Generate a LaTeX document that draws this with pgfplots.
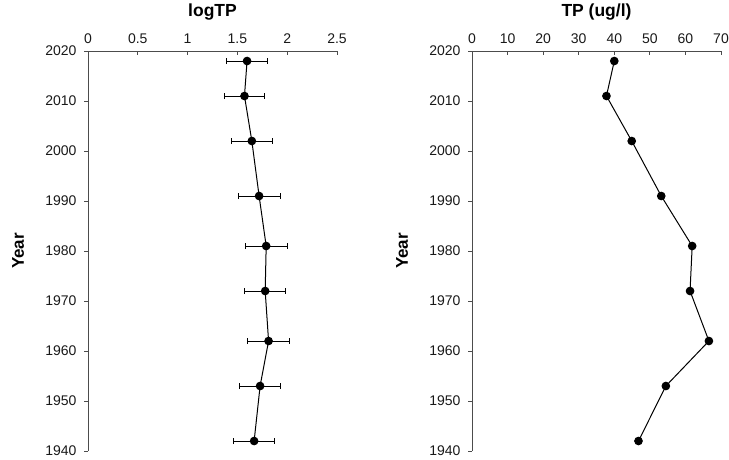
\documentclass[border=0pt]{standalone}
\usepackage{pgfplots}
\pgfplotsset{compat=1.18}
\usepackage{fontspec}
\setmainfont{Liberation Sans}
\pgfplotstableread{
year logtp err tp
2018 1.597 0.21 40.0
2011 1.571 0.205 37.8
2002 1.645 0.205 44.9
1991 1.718 0.21 53.2
1981 1.789 0.21 61.9
1972 1.779 0.205 61.3
1962 1.813 0.21 66.6
1953 1.728 0.205 54.5
1942 1.668 0.205 46.8
}\data
\newcommand{\tickfont}{\fontsize{14}{16}\selectfont}
\pgfplotsset{
  common/.style={
    scale only axis,
    width=249pt, height=400pt,
    ymin=1940, ymax=2020,
    ytick={1940,1950,...,2020},
    axis x line*=top, axis y line*=left,
    axis line style={line width=1pt, color=black!70},
    /pgf/number format/assume math mode=true,
    /pgf/number format/1000 sep={},
    xticklabel={\tickfont\pgfmathprintnumber{\tick}},
    yticklabel={\tickfont\pgfmathprintnumber{\tick}},
    every tick label/.append style={color=black!90},
    major tick length=4pt,
    tick style={line width=0.9pt, color=black!70},
    xtick align=inside, ytick align=outside,
    xticklabel style={yshift=4pt},
    yticklabel style={xshift=-4pt},
    title style={at={(axis description cs:0.5,1)}, anchor=base, yshift=29pt, font=\bfseries\fontsize{17.5}{20}\selectfont},
    ylabel style={at={(axis description cs:0,0.5)}, anchor=center, font=\bfseries\fontsize{17}{20}\selectfont},
    ylabel={Year},
    clip=false,
  },
}
\begin{document}
\begin{tikzpicture}
\path[use as bounding box] (0,0) rectangle (729pt,-459pt);
\begin{axis}[common, at={(88pt,-451pt)}, anchor=south west,
  xmin=0, xmax=2.5, xtick={0,0.5,...,2.5},
  title={logTP}, ylabel style={yshift=70pt}]
\addplot[black, line width=1pt, mark=*, mark size=3.8pt,
  error bars/.cd, x dir=both, x explicit,
  error bar style={line width=1pt, black},
  error mark options={rotate=90, mark size=3pt, line width=1pt}]
  table[x=logtp, y=year, x error=err] {\data};
\end{axis}
\begin{axis}[common, at={(472pt,-451pt)}, anchor=south west,
  xmin=0, xmax=70, xtick={0,10,...,70},
  title={TP (ug/l)}, ylabel style={yshift=70pt}]
\addplot[black, line width=1pt, mark=*, mark size=3.8pt]
  table[x=tp, y=year] {\data};
\end{axis}
\end{tikzpicture}
\end{document}
